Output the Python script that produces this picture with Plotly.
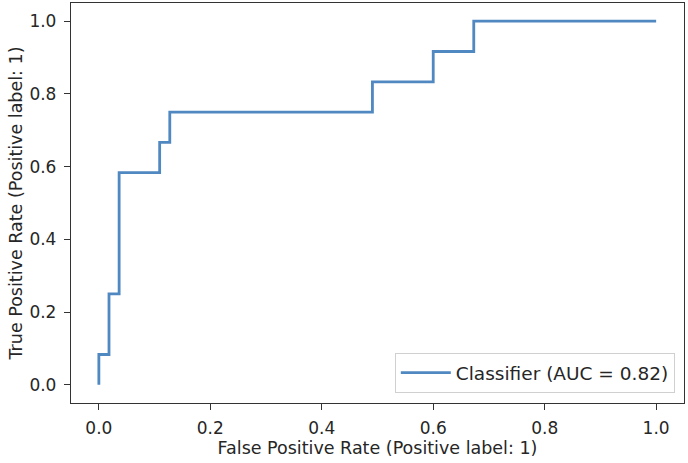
import plotly.graph_objects as go

# ROC curve data (55 negatives, 12 positives)
fpr = [0.0, 0.0, 1/55, 1/55, 2/55, 2/55, 6/55, 6/55, 7/55, 7/55, 27/55, 27/55, 33/55, 33/55, 37/55, 37/55, 1.0]
tpr = [0.0, 1/12, 1/12, 3/12, 3/12, 7/12, 7/12, 8/12, 8/12, 9/12, 9/12, 10/12, 10/12, 11/12, 11/12, 1.0, 1.0]
series_name = "Classifier (AUC = 0.82)"
tick_vals = [0.0, 0.2, 0.4, 0.6, 0.8, 1.0]
tick_text = ["0.0", "0.2", "0.4", "0.6", "0.8", "1.0"]

fig = go.Figure()
fig.add_trace(go.Scatter(x=fpr, y=tpr, mode="lines", name=series_name,
                         line=dict(color="#5088c1", width=2.8)))

tick_font = dict(family="DejaVu Sans", size=17, color="#262626")
title_font = dict(family="DejaVu Sans", size=17.5, color="#262626")
axis_common = dict(
    showline=True, linecolor="#333333", linewidth=1.3, mirror=True,
    ticks="outside", ticklen=6, tickwidth=1.3, tickcolor="#333333",
    showgrid=False, zeroline=False, tickvals=tick_vals, ticktext=tick_text,
    tickfont=tick_font, range=[-0.05, 1.05],
)
fig.update_layout(
    width=688, height=463,
    margin=dict(l=71, r=4, t=3, b=60),
    paper_bgcolor="white", plot_bgcolor="white",
    font=title_font,
    xaxis=dict(axis_common, ticklabelstandoff=3,
               title=dict(text="False Positive Rate (Positive label: 1)", font=title_font, standoff=2)),
    yaxis=dict(axis_common, ticklabelstandoff=4,
               title=dict(text="True Positive Rate (Positive label: 1)", font=title_font, standoff=2)),
    showlegend=True,
    legend=dict(x=0.985, y=0.025, xanchor="right", yanchor="bottom",
                itemwidth=50,
                bgcolor="rgba(255,255,255,0.8)", bordercolor="#d0d0d0", borderwidth=1,
                font=dict(family="DejaVu Sans", size=18.5, color="#262626")),
)
fig.write_html("out.html")
